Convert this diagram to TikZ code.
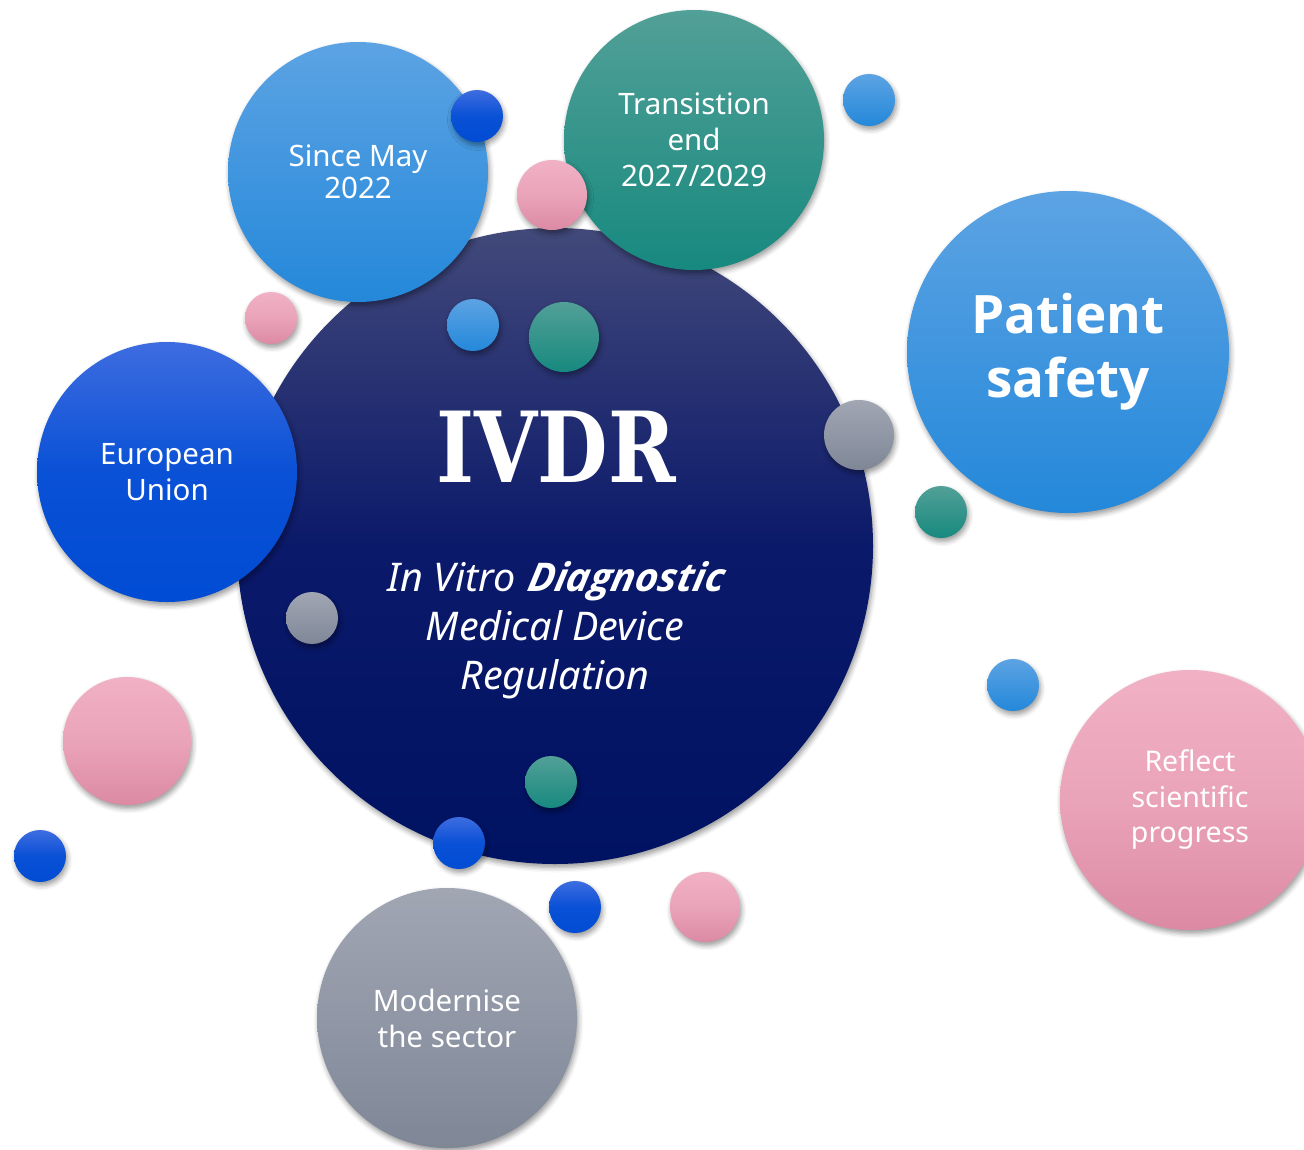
\documentclass[tikz,border=0pt]{standalone}
\usepackage{fontspec}
\usepackage{graphicx}
\setmainfont{Noto Sans}
\newfontfamily\ivdrfont{DejaVu Serif}
% heavy weights for the emphasised words
\IfFontExistsTF{Open Sans Bold}
  {\newfontfamily\heavyfont{Open Sans Bold}
   \newfontfamily\heavyitfont{Open Sans Bold}[FakeSlant=0.2]}
  {\newfontfamily\heavyfont{Noto Sans}[FakeBold=2.2]
   \newfontfamily\heavyitfont{Noto Sans Italic}[FakeBold=2.2]}
\usetikzlibrary{shadows.blur}

% palette (top / bottom of each vertical gradient)
\definecolor{navyTop}{HTML}{42497A}
\definecolor{navyMid}{HTML}{0B196A}
\definecolor{navyBot}{HTML}{001262}
\definecolor{skyTop}{HTML}{5CA3E3}
\definecolor{skyBot}{HTML}{2488DA}
\definecolor{tealTop}{HTML}{52A097}
\definecolor{tealBot}{HTML}{17897F}
\definecolor{royalTop}{HTML}{3E6CE0}
\definecolor{royalBot}{HTML}{004CD4}
\definecolor{pinkTop}{HTML}{F1B1C5}
\definecolor{pinkBot}{HTML}{DC8AA4}
\definecolor{greyTop}{HTML}{A1A6B3}
\definecolor{greyBot}{HTML}{7F8797}

\tikzset{
  bubble/.style={circle, inner sep=0pt, outer sep=0pt, text=white, align=center,
    blur shadow={shadow xshift=1.5pt, shadow yshift=-3.5pt,
                 shadow blur radius=5pt, shadow opacity=40}},
  dia/.style={minimum size=#1pt},
  navy/.style={top color=navyTop, bottom color=navyBot, middle color=navyMid},
  sky/.style={top color=skyTop, bottom color=skyBot},
  teal/.style={top color=tealTop, bottom color=tealBot},
  royal/.style={top color=royalTop, bottom color=royalBot, middle color=royalBot!85!royalTop},
  pink/.style={top color=pinkTop, bottom color=pinkBot, middle color=pinkBot!35!pinkTop},
  grey/.style={top color=greyTop, bottom color=greyBot},
  label/.style={font=\fontsize{29.5}{36}\selectfont},
}

\begin{document}
\begin{tikzpicture}[x=1pt, y=-1pt]
  \useasboundingbox (0,0) rectangle (1304,1149);
  \clip (0,0) rectangle (1304,1149);

  % central regulation bubble
  \node[bubble, navy, dia=636] (main) at (555,546) {};
  \node[text=white, inner sep=0pt] (ivdr) at (556,447)
    {\scalebox{0.83}[1]{\ivdrfont\bfseries\fontsize{98}{98}\selectfont IVDR}};
  \node[text=white, align=center, inner sep=0pt,
        font=\itshape\fontsize{39.5}{49}\selectfont] (ivdrsub) at (555,630)
    {In Vitro {\heavyitfont Diagnostic}\\Medical Device\\Regulation};

  % topic bubbles around it
  \node[bubble, sky, dia=260, font=\fontsize{29.5}{32}\selectfont] (since) at (358,172) {Since May\\2022};
  \node[bubble, teal, dia=260, label] (trans) at (694,140) {Transistion\\end\\2027/2029};
  \node[bubble, royal, dia=260, label] (eu) at (167,472) {European\\Union};
  \node[bubble, sky, dia=322, font=\heavyfont\fontsize{53}{64}\selectfont] (safety) at (1068,352) {Patient\\safety};
  \node[bubble, pink, dia=260, font=\fontsize{28.5}{35.5}\selectfont] (reflect) at (1190,800) {Reflect\\scientific\\progress};
  \node[bubble, grey, dia=260, label] (modern) at (447,1018) {Modernise\\the sector};

  % decorative dots
  \node[bubble, royal, dia=52] (d1) at (477,116) {};
  \node[bubble, pink, dia=70] (d2) at (552,195) {};
  \node[bubble, sky, dia=52] (d3) at (869,100) {};
  \node[bubble, pink, dia=52] (d4) at (271,318) {};
  \node[bubble, sky, dia=52] (d5) at (473,325) {};
  \node[bubble, teal, dia=70] (d6) at (564,337) {};
  \node[bubble, grey, dia=70] (d7) at (859,435) {};
  \node[bubble, teal, dia=52] (d8) at (941,512) {};
  \node[bubble, grey, dia=52] (d9) at (312,618) {};
  \node[bubble, sky, dia=52] (d10) at (1013,685) {};
  \node[bubble, teal, dia=52] (d11) at (551,782) {};
  \node[bubble, royal, dia=52] (d12) at (459,843) {};
  \node[bubble, pink, dia=128] (d13) at (127,741) {};
  \node[bubble, royal, dia=52] (d14) at (40,856) {};
  \node[bubble, royal, dia=52] (d15) at (575,907) {};
  \node[bubble, pink, dia=70] (d16) at (705,907) {};
\end{tikzpicture}
\end{document}
